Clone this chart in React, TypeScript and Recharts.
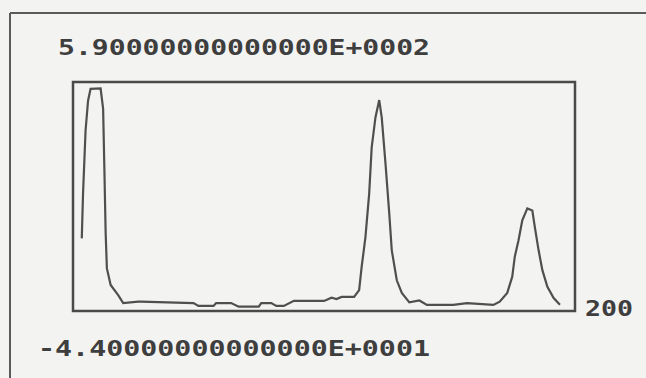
import React from "react";
import { LineChart, Line, XAxis, YAxis, ReferenceArea } from "recharts";

// channel index (0..200) and counts
const channels = [
  3.5, 4, 5, 6, 7, 11, 12, 12.5, 13, 13.5, 15, 18, 20, 26, 27, 48, 50, 56, 57,
  63, 66, 74, 75, 79, 81, 84, 88, 100, 103, 105, 107, 112, 114, 115, 116.5,
  118, 119, 120.5, 122, 123, 124.5, 126, 127, 129, 131, 134, 138, 141, 151.5,
  157, 167.5, 170, 173, 175, 176, 177.5, 179, 181, 183, 184, 185.5, 187, 189,
  191.5, 194,
];
const counts = [
  157, 281, 455, 538, 571, 572, 516, 350, 174, 74, 28, 0, -22, -18, -18, -22,
  -30, -30, -22, -22, -32, -32, -22, -22, -30, -30, -16, -16, -7, -11, -5, -5,
  14, 78, 160, 281, 409, 492, 540, 492, 364, 226, 124, 41, 6, -20, -15, -27,
  -27, -22, -27, -18, 6, 51, 106, 152, 207, 240, 234, 188, 124, 69, 23, -8,
  -27,
];

const yMax = 590;
const yMin = -44;
const xMax = 200;
const topLabel = "5.90000000000000E+0002";
const bottomLabel = "-4.40000000000000E+0001";
const xMaxLabel = String(xMax);

const data = channels.map((c, i) => ({ ch: c, n: counts[i] }));

const ink = "#3e3e3e";
const monoFont = "'DejaVu Sans Mono', monospace";

export default function App() {
  return (
    <div
      style={{
        position: "absolute",
        left: 0,
        top: 0,
        width: 646,
        height: 378,
        background: "#f3f3f1",
        overflow: "hidden",
      }}
    >
      {/* page frame + the printed min/max labels */}
      <svg
        width={646}
        height={378}
        style={{ position: "absolute", left: 0, top: 0 }}
      >
        <line x1={10} y1={13} x2={646} y2={13} stroke="#5a5a5a" strokeWidth={2} />
        <line x1={10} y1={13} x2={10} y2={378} stroke="#5a5a5a" strokeWidth={2} />
        <text
          x={58}
          y={55}
          fontFamily={monoFont}
          fontWeight="bold"
          fontSize={21}
          fill={ink}
          textLength={372}
          lengthAdjust="spacingAndGlyphs"
        >
          {topLabel}
        </text>
        <text
          x={38}
          y={356}
          fontFamily={monoFont}
          fontWeight="bold"
          fontSize={21}
          fill={ink}
          textLength={392}
          lengthAdjust="spacingAndGlyphs"
        >
          {bottomLabel}
        </text>
        <text
          x={585}
          y={316}
          fontFamily={monoFont}
          fontWeight="bold"
          fontSize={21}
          fill={ink}
          textLength={48}
          lengthAdjust="spacingAndGlyphs"
        >
          {xMaxLabel}
        </text>
      </svg>

      <div style={{ position: "absolute", left: 0, top: 0 }}>
        <LineChart
          width={646}
          height={378}
          data={data}
          margin={{ top: 82, right: 71, bottom: 67, left: 73 }}
        >
          <XAxis dataKey="ch" type="number" domain={[0, xMax]} hide />
          <YAxis type="number" domain={[yMin, yMax]} hide />
          <ReferenceArea
            x1={0}
            x2={xMax}
            y1={yMin}
            y2={yMax}
            fill="none"
            stroke="#4a4a4a"
            strokeWidth={2.5}
            ifOverflow="visible"
          />
          <Line
            type="linear"
            dataKey="n"
            stroke="#4f4f4f"
            strokeWidth={2.2}
            dot={false}
            isAnimationActive={false}
          />
        </LineChart>
      </div>
    </div>
  );
}
